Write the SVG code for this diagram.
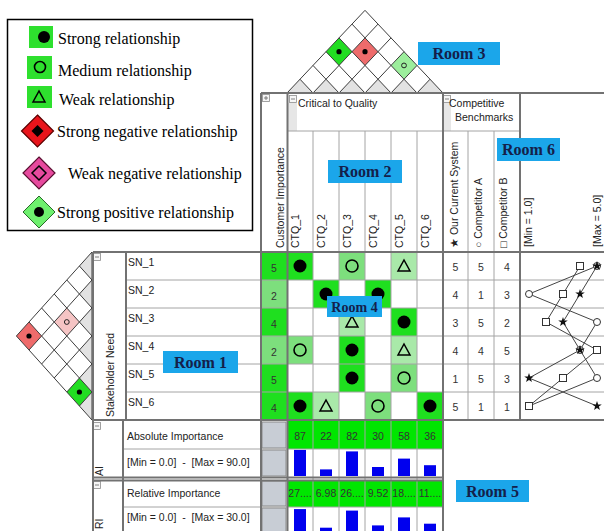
<svg xmlns="http://www.w3.org/2000/svg" width="604" height="531" viewBox="0 0 604 531">
<defs>
<style>
.lg{font-family:"Liberation Serif","Times New Roman",serif;font-size:16px;fill:#000}
.t{font-family:"Liberation Sans",Arial,sans-serif;font-size:10.5px;fill:#222;white-space:pre}
.n{font-family:"Liberation Sans",Arial,sans-serif;font-size:10.5px;fill:#333;text-anchor:middle}
.room rect{fill:#1ba6ea}
.room text{font-family:"Liberation Serif","Times New Roman",serif;font-weight:bold;font-size:16px;fill:#14204a;text-anchor:middle}
.thin{stroke:#a4a4a4;stroke-width:1;fill:none}
.frame{stroke:#727272;stroke-width:2;fill:none}
.roof{stroke:#3c3c3c;stroke-width:1;fill:none}
.half{fill:#e2e2e2}
.s{fill:#1fdf1f}
.m{fill:#7ddf7d}
.w{fill:#a9e9a9}
.ai{fill:#00e600}
.gray{fill:#c8cdd5;stroke:#8a8a8a;stroke-width:1}
.dot{fill:#000}
.ring{fill:none;stroke:#000;stroke-width:1.6}
.tri{fill:none;stroke:#000;stroke-width:1.5}
.bar{fill:#0000ee}
.icon rect{fill:#f6f6f6;stroke:#8c8c8c;stroke-width:0.8}
.icon path{stroke:#666;stroke-width:0.8}
.prof{stroke:#444;stroke-width:1;fill:none}
.mk{fill:#fff;stroke:#333;stroke-width:1}
</style>
<g id="collapse" class="icon"><rect x="0.5" y="0.5" width="7" height="7"/><path d="M2 4H6"/></g>
<g id="expand" class="icon"><rect x="0.5" y="0.5" width="7" height="7"/><path d="M2 4H6M4 2V6"/></g>
<path id="star" d="M0-5 1.18-1.62 4.76-1.55 1.9 0.62 2.94 4.05 0 2-2.94 4.05-1.9 0.62-4.76-1.55-1.18-1.62Z" fill="#111"/>
</defs>
<rect width="604" height="531" fill="#fff"/>

<!-- symbol key -->
<g id="legend">
<rect x="7.5" y="19.5" width="245" height="211" fill="#fff" stroke="#000" stroke-width="1.5"/>
<rect x="29" y="26" width="24" height="22" fill="#2ee02e"/><circle cx="44" cy="37" r="6" class="dot"/>
<rect x="27" y="56" width="25" height="23" fill="#2ee02e"/><circle cx="40" cy="67" r="5.5" class="ring"/>
<rect x="27" y="86" width="25" height="22" fill="#2ee02e"/><polygon points="33,102 45,102 39,91" class="tri" fill="#fff"/>
<polygon points="37.5,115 53.5,131 37.5,147 21.5,131" fill="#e8141b" stroke="#5a0000" stroke-width="1.2"/>
<polygon points="37.5,125 43.5,131 37.5,137 31.5,131" class="dot"/>
<polygon points="39,157 55,173 39,189 23,173" fill="#e64a9e" stroke="#5a1030" stroke-width="1.2"/>
<polygon points="39,166 46,173 39,180 32,173" fill="none" stroke="#000" stroke-width="1.5"/>
<polygon points="39,196 55,212 39,228 23,212" fill="#6ef06e" stroke="#2a6a2a" stroke-width="1"/>
<circle cx="39" cy="212" r="5" class="dot"/>
<text class="lg" x="58" y="44">Strong relationship</text>
<text class="lg" x="58" y="76">Medium relationship</text>
<text class="lg" x="59" y="105">Weak relationship</text>
<text class="lg" x="57" y="137">Strong negative relationship</text>
<text class="lg" x="68" y="179">Weak negative relationship</text>
<text class="lg" x="57" y="218">Strong positive relationship</text>
</g>

<!-- correlation roof over the CTQ columns -->
<g id="roof-top">
<polygon class="half" points="287,93 313,93 300,79.22"/>
<polygon class="half" points="313,93 339,93 326,79.22"/>
<polygon class="half" points="339,93 365,93 352,79.22"/>
<polygon class="half" points="365,93 391,93 378,79.22"/>
<polygon class="half" points="391,93 417,93 404,79.22"/>
<polygon class="half" points="417,93 443,93 430,79.22"/>
<polygon points="339,37.88 352,51.66 339,65.44 326,51.66" fill="#22dd22"/>
<polygon points="365,37.88 378,51.66 365,65.44 352,51.66" fill="#ee6b6b"/>
<polygon points="404,51.66 417,65.44 404,79.22 391,65.44" fill="#9cee9c"/>
<path class="roof" d="M287 93 365 10.32 443 93M313 93 378 24.1M339 93 391 37.88M365 93 404 51.66M391 93 417 65.44M417 93 430 79.22M313 93 300 79.22M339 93 313 65.44M365 93 326 51.66M391 93 339 37.88M417 93 352 24.1"/>
<circle cx="339" cy="51.66" r="2.6" class="dot"/>
<circle cx="365" cy="51.66" r="2.6" class="dot"/>
<circle cx="404" cy="65.44" r="2.4" fill="none" stroke="#222" stroke-width="1"/>
</g>

<!-- correlation roof beside the stakeholder needs -->
<g id="roof-left">
<polygon class="half" points="92,252 92,280 79.4,266"/>
<polygon class="half" points="92,280 92,308 79.4,294"/>
<polygon class="half" points="92,308 92,336 79.4,322"/>
<polygon class="half" points="92,336 92,364 79.4,350"/>
<polygon class="half" points="92,364 92,392 79.4,378"/>
<polygon class="half" points="92,392 92,420 79.4,406"/>
<polygon points="29,322 41.6,336 29,350 16.4,336" fill="#ee6b6b"/>
<polygon points="66.8,308 79.4,322 66.8,336 54.2,322" fill="#f5c4c4"/>
<polygon points="79.4,378 92,392 79.4,406 66.8,392" fill="#22dd22"/>
<path class="roof" d="M92 252 16.4 336 92 420ZM92 280 29 350M92 308 41.6 364M92 336 54.2 378M92 364 66.8 392M92 392 79.4 406M92 280 79.4 266M92 308 66.8 280M92 336 54.2 294M92 364 41.6 308M92 392 29 322"/>
<circle cx="29" cy="336" r="2.6" class="dot"/>
<circle cx="66.8" cy="322" r="2.4" fill="none" stroke="#222" stroke-width="1"/>
<circle cx="79.4" cy="392" r="2.6" class="dot"/>
</g>

<!-- column headers: customer importance and critical to quality -->
<g id="room2-headers">
<rect x="288" y="103" width="9" height="28" fill="#e6e6e6"/>
<use href="#expand" x="262" y="94"/>
<use href="#collapse" x="289" y="95"/>
<text class="t" x="298" y="107">Critical to Quality</text>
<text class="t" transform="translate(284,248) rotate(-90)">Customer Importance</text>
<text class="t" transform="translate(299,248) rotate(-90)">CTQ_1</text>
<text class="t" transform="translate(325,248) rotate(-90)">CTQ_2</text>
<text class="t" transform="translate(351,248) rotate(-90)">CTQ_3</text>
<text class="t" transform="translate(377,248) rotate(-90)">CTQ_4</text>
<text class="t" transform="translate(403,248) rotate(-90)">CTQ_5</text>
<text class="t" transform="translate(429,248) rotate(-90)">CTQ_6</text>
</g>

<!-- column headers: competitive benchmarks -->
<g id="room6-headers">
<rect x="443" y="103" width="8" height="28" fill="#e6e6e6"/>
<use href="#collapse" x="443" y="95"/>
<text class="t" x="449" y="107">Competitive</text>
<text class="t" x="455" y="121">Benchmarks</text>
<text class="t" transform="translate(457.5,248) rotate(-90)">★ Our Current System</text>
<text class="t" transform="translate(482,248) rotate(-90)">○ Competitor A</text>
<text class="t" transform="translate(507,248) rotate(-90)">□ Competitor B</text>
<text class="t" transform="translate(532,247) rotate(-90)">[Min = 1.0]</text>
<text class="t" transform="translate(601,247) rotate(-90)">[Max = 5.0]</text>
</g>

<!-- stakeholder needs -->
<g id="room1-needs">
<use href="#collapse" x="93" y="253"/>
<text class="t" transform="translate(114,417) rotate(-90)">Stakeholder Need</text>
<text class="t" x="128" y="266">SN_1</text>
<text class="t" x="128" y="294">SN_2</text>
<text class="t" x="128" y="322">SN_3</text>
<text class="t" x="128" y="350">SN_4</text>
<text class="t" x="128" y="378">SN_5</text>
<text class="t" x="128" y="406">SN_6</text>
</g>

<!-- relationship matrix -->
<g id="room4-matrix">
<rect x="261" y="252" width="26" height="28" class="s"/>
<rect x="261" y="280" width="26" height="28" class="m"/>
<rect x="261" y="308" width="26" height="28" class="s"/>
<rect x="261" y="336" width="26" height="28" class="m"/>
<rect x="261" y="364" width="26" height="28" class="s"/>
<rect x="261" y="392" width="26" height="28" class="s"/>
<text class="n" x="274" y="271.5">5</text>
<text class="n" x="274" y="299.5">2</text>
<text class="n" x="274" y="327.5">4</text>
<text class="n" x="274" y="355.5">2</text>
<text class="n" x="274" y="383.5">5</text>
<text class="n" x="274" y="411.5">4</text>
<rect x="287" y="252" width="26" height="28" class="s"/>
<rect x="339" y="252" width="26" height="28" class="m"/>
<rect x="391" y="252" width="26" height="28" class="w"/>
<rect x="313" y="280" width="26" height="28" class="s"/>
<rect x="365" y="280" width="26" height="28" class="s"/>
<rect x="339" y="308" width="26" height="28" class="w"/>
<rect x="391" y="308" width="26" height="28" class="s"/>
<rect x="287" y="336" width="26" height="28" class="m"/>
<rect x="339" y="336" width="26" height="28" class="s"/>
<rect x="391" y="336" width="26" height="28" class="w"/>
<rect x="339" y="364" width="26" height="28" class="s"/>
<rect x="391" y="364" width="26" height="28" class="m"/>
<rect x="287" y="392" width="26" height="28" class="s"/>
<rect x="313" y="392" width="26" height="28" class="w"/>
<rect x="365" y="392" width="26" height="28" class="m"/>
<rect x="417" y="392" width="26" height="28" class="s"/>
<circle cx="300" cy="266" r="6.5" class="dot"/>
<circle cx="352" cy="266" r="6" class="ring"/>
<polygon points="398,271 410,271 404,260" class="tri"/>
<circle cx="326" cy="294" r="6.5" class="dot"/>
<circle cx="378" cy="294" r="6.5" class="dot"/>
<polygon points="346,327 358,327 352,316" class="tri"/>
<circle cx="404" cy="322" r="6.5" class="dot"/>
<circle cx="300" cy="350" r="6" class="ring"/>
<circle cx="352" cy="350" r="6.5" class="dot"/>
<polygon points="398,355 410,355 404,344" class="tri"/>
<circle cx="352" cy="378" r="6.5" class="dot"/>
<circle cx="404" cy="378" r="6" class="ring"/>
<circle cx="300" cy="406" r="6.5" class="dot"/>
<polygon points="320,411 332,411 326,400" class="tri"/>
<circle cx="378" cy="406" r="6" class="ring"/>
<circle cx="430" cy="406" r="6.5" class="dot"/>
</g>

<!-- competitive benchmark values -->
<g id="room6-benchmarks">
<text class="n" x="455.5" y="271">5</text><text class="n" x="481" y="271">5</text><text class="n" x="507" y="271">4</text>
<text class="n" x="455.5" y="299">4</text><text class="n" x="481" y="299">1</text><text class="n" x="507" y="299">3</text>
<text class="n" x="455.5" y="327">3</text><text class="n" x="481" y="327">5</text><text class="n" x="507" y="327">2</text>
<text class="n" x="455.5" y="355">4</text><text class="n" x="481" y="355">4</text><text class="n" x="507" y="355">5</text>
<text class="n" x="455.5" y="383">1</text><text class="n" x="481" y="383">5</text><text class="n" x="507" y="383">3</text>
<text class="n" x="455.5" y="411">5</text><text class="n" x="481" y="411">1</text><text class="n" x="507" y="411">1</text>
</g>

<!-- technical importance rows -->
<g id="room5-importance">
<use href="#collapse" x="93" y="422"/>
<use href="#collapse" x="93" y="481"/>
<text class="t" transform="translate(103,476) rotate(-90)">AI</text>
<text class="t" transform="translate(103,529) rotate(-90)">RI</text>
<text class="t" x="127" y="440">Absolute Importance</text>
<text class="t" x="127" y="466">[Min = 0.0]  -  [Max = 90.0]</text>
<text class="t" x="127" y="497">Relative Importance</text>
<text class="t" x="127" y="521">[Min = 0.0]  -  [Max = 30.0]</text>
<rect x="262" y="422" width="24" height="26" class="gray"/>
<rect x="262" y="450" width="24" height="26" class="gray"/>
<rect x="262" y="481" width="24" height="25" class="gray"/>
<rect x="262" y="508" width="24" height="25" class="gray"/>
<rect x="287" y="421" width="156" height="28" class="ai"/>
<rect x="287" y="480" width="156" height="27" class="ai"/>
<text class="n" x="300" y="440">87</text><text class="n" x="326" y="440">22</text><text class="n" x="352" y="440">82</text>
<text class="n" x="378" y="440">30</text><text class="n" x="404" y="440">58</text><text class="n" x="430" y="440">36</text>
<text class="n" x="300" y="497">27....</text><text class="n" x="326" y="497">6.98</text><text class="n" x="352" y="497">26....</text>
<text class="n" x="378" y="497">9.52</text><text class="n" x="404" y="497">18....</text><text class="n" x="430" y="497">11....</text>
<rect class="bar" x="294" y="449.9" width="12" height="26.1"/>
<rect class="bar" x="320" y="469.4" width="12" height="6.6"/>
<rect class="bar" x="346" y="451.4" width="12" height="24.6"/>
<rect class="bar" x="372" y="467" width="12" height="9"/>
<rect class="bar" x="398" y="458.6" width="12" height="17.4"/>
<rect class="bar" x="424" y="465.2" width="12" height="10.8"/>
<rect class="bar" x="294" y="509.1" width="12" height="25"/>
<rect class="bar" x="320" y="527.7" width="12" height="7"/>
<rect class="bar" x="346" y="510.6" width="12" height="24"/>
<rect class="bar" x="372" y="525.4" width="12" height="9"/>
<rect class="bar" x="398" y="517.4" width="12" height="17"/>
<rect class="bar" x="424" y="523.7" width="12" height="11"/>
</g>

<!-- table rules -->
<g id="grid">
<path class="thin" d="M126 280H604M126 308H604M126 336H604M126 364H604M126 392H604M313 131V420M339 131V420M365 131V420M391 131V420M417 131V420M468 131V420M494 131V420M287 131H520M123 449H443M123 507H443M313 420V531M339 420V531M365 420V531M391 420V531M417 420V531"/>
<path class="frame" d="M261 93H604M93 252H604M93 420H604M93 477.5H443M93 480.5H443M261 93V531M287.5 93V531M443 93V531M520 93V420M93 252V531M126 252V420M123 420V531"/>
</g>

<!-- benchmark profile lines -->
<g id="connectors">
<polyline class="prof" points="597,266 529,294 597,322 580,350 597,378 529,406"/>
<polyline class="prof" points="580,266 563,294 546,322 597,350 563,378 529,406"/>
<polyline class="prof" points="597,266 580,294 563,322 580,350 529,378 597,406"/>
<g class="mk">
<circle cx="597" cy="266" r="3.5"/><circle cx="529" cy="294" r="3.5"/><circle cx="597" cy="322" r="3.5"/>
<circle cx="580" cy="350" r="3.5"/><circle cx="597" cy="378" r="3.5"/><circle cx="529" cy="406" r="3.5"/>
<rect x="576.5" y="262.5" width="7" height="7"/><rect x="559.5" y="290.5" width="7" height="7"/><rect x="542.5" y="318.5" width="7" height="7"/>
<rect x="593.5" y="346.5" width="7" height="7"/><rect x="559.5" y="374.5" width="7" height="7"/><rect x="525.5" y="402.5" width="7" height="7"/>
</g>
<use href="#star" x="597" y="266"/><use href="#star" x="580" y="294"/><use href="#star" x="563" y="322"/>
<use href="#star" x="580" y="350"/><use href="#star" x="529" y="378"/><use href="#star" x="597" y="406"/>
</g>

<!-- room captions -->
<g id="room-labels" class="room">
<g id="room1"><rect x="163" y="351" width="75" height="22"/><text x="200.5" y="367.5">Room 1</text></g>
<g id="room2"><rect x="328" y="160" width="74" height="23"/><text x="365" y="177">Room 2</text></g>
<g id="room3"><rect x="418" y="42" width="82" height="23"/><text x="459" y="59">Room 3</text></g>
<g id="room4"><rect x="327" y="296" width="55" height="21"/><text x="354.5" y="311.5" style="font-size:14px">Room 4</text></g>
<g id="room5"><rect x="456" y="480" width="73" height="22"/><text x="492.5" y="496.5">Room 5</text></g>
<g id="room6"><rect x="497" y="138" width="63" height="23"/><text x="528.5" y="155">Room 6</text></g>
</g>
</svg>
